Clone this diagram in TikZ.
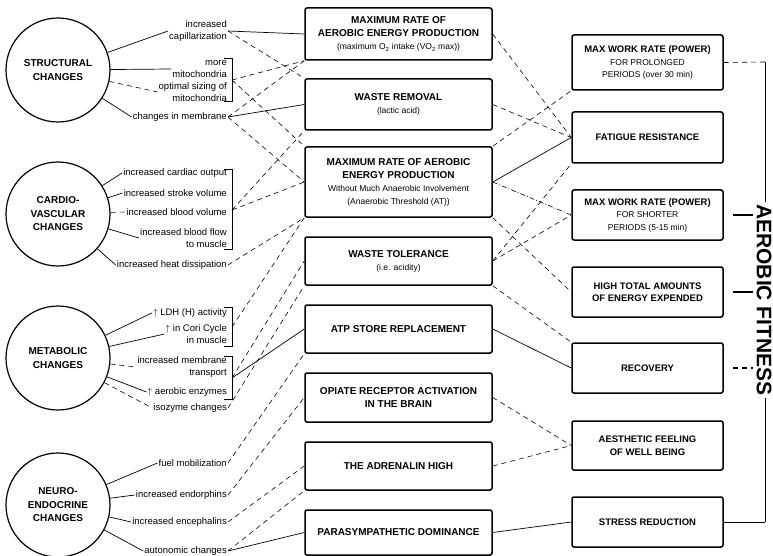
\documentclass[tikz,border=0pt]{standalone}
\usepackage{fontspec}
\setmainfont{Liberation Sans}

\tikzset{
  change/.style={circle, draw, line width=1.2pt, minimum size=104pt, inner sep=0pt,
    align=center, font=\bfseries\fontsize{10}{13.5}\selectfont},
  effect/.style={anchor=east, align=right, inner sep=1pt, font=\fontsize{9.5}{12.3}\selectfont},
  midbox/.style={draw, line width=1.5pt, rounded corners=2pt, minimum width=187pt,
    align=center, font=\bfseries\fontsize{10}{13}\selectfont},
  outbox/.style={draw, line width=1.5pt, rounded corners=2pt, minimum width=151pt,
    align=center, font=\bfseries\fontsize{9.5}{12.5}\selectfont},
  link/.style={line width=0.7pt},
  weak/.style={line width=0.6pt, dash pattern=on 5pt off 4pt},
  weakdot/.style={line width=0.6pt, dash pattern=on 5pt off 2pt on 1pt off 2pt}
}
\newcommand{\subtxt}{\mdseries\fontsize{8.5}{10}\selectfont}

\begin{document}
\begin{tikzpicture}[x=1pt,y=-1pt]
\useasboundingbox (0,0) rectangle (773,556);
%circles:
\node[change] (struct) at (58,70) {STRUCTURAL\\CHANGES};
\node[change] (cardio) at (58,214) {CARDIO-\\VASCULAR\\CHANGES};
\node[change] (metab) at (58,358) {METABOLIC\\CHANGES};
\node[change] (neuro) at (58,505) {NEURO-\\ENDOCRINE\\CHANGES};
%effects of each change:
\node[effect] (cap) at (228,31) {increased\\capillarization};
\node[effect] (mito) at (228,69) {more\\mitochondria};
\node[effect] (optsz) at (228,92) {optimal sizing of\\mitochondria};
\node[effect] (membr) at (228,117) {changes in membrane};
\node[effect] (cout) at (228,173) {increased cardiac output};
\node[effect] (strk) at (228,193) {increased stroke volume};
\node[effect] (bvol) at (228,212) {increased blood volume};
\node[effect] (bflow) at (228,238) {increased blood flow\\to muscle};
\node[effect] (heat) at (228,265) {increased heat dissipation};
\node[effect] (ldh) at (228,313) {$\uparrow$ LDH (H) activity};
\node[effect] (cori) at (228,334) {$\uparrow$ in Cori Cycle\\in muscle};
\node[effect] (mtrans) at (228,367) {increased membrane\\transport};
\node[effect] (aerenz) at (228,392) {$\uparrow$ aerobic enzymes};
\node[effect] (iso) at (228,408) {isozyme changes};
\node[effect] (fuel) at (228,463) {fuel mobilization};
\node[effect] (endo) at (228,495) {increased endorphins};
\node[effect] (ence) at (228,522) {increased encephalins};
\node[effect] (auto) at (228,551) {autonomic changes};
%brackets:
\draw[link] (224,58) -- (232,58) -- (232,101) -- (224,101);
\draw[link] (224,169) -- (232,169) -- (232,249) -- (224,249);
\draw[link] (224,307) -- (232,307) -- (232,346) -- (224,346);
\draw[link] (224,356) -- (232,356) -- (232,399) -- (224,399);
\coordinate (bmito) at (232,80);
\coordinate (bcard) at (232,210);
\coordinate (bmet1) at (232,327);
\coordinate (bmet2) at (232,378);
%middle boxes:
\node[midbox, minimum height=52pt] (maxaer) at (398.5,34)
  {MAXIMUM RATE OF\\AEROBIC ENERGY PRODUCTION\\{\subtxt (maximum O\textsubscript{2} intake (VO\textsubscript{2} max))}};
\node[midbox, minimum height=51pt] (wrem) at (398.5,104.5) {WASTE REMOVAL\\{\subtxt (lactic acid)}};
\node[midbox, minimum height=70pt] (thresh) at (398.5,182)
  {MAXIMUM RATE OF AEROBIC\\ENERGY PRODUCTION\\{\subtxt Without Much Anaerobic Involvement}\\{\subtxt (Anaerobic Threshold (AT))}};
\node[midbox, minimum height=48pt] (wtol) at (398.5,261) {WASTE TOLERANCE\\{\subtxt (i.e. acidity)}};
\node[midbox, minimum height=48pt] (atp) at (398.5,329) {ATP STORE REPLACEMENT};
\node[midbox, minimum height=49pt] (opiate) at (398.5,397.5) {OPIATE RECEPTOR ACTIVATION\\IN THE BRAIN};
\node[midbox, minimum height=48pt] (adren) at (398.5,466) {THE ADRENALIN HIGH};
\node[midbox, minimum height=45pt] (para) at (398.5,532.5) {PARASYMPATHETIC DOMINANCE};
%right boxes:
\node[outbox, minimum height=55pt] (prolong) at (647.5,62.5)
  {MAX WORK RATE (POWER)\\{\subtxt FOR PROLONGED}\\{\subtxt PERIODS (over 30 min)}};
\node[outbox, minimum height=51pt] (fatig) at (647.5,137.5) {FATIGUE RESISTANCE};
\node[outbox, minimum height=50pt] (short) at (647.5,215)
  {MAX WORK RATE (POWER)\\{\subtxt FOR SHORTER}\\{\subtxt PERIODS (5-15 min)}};
\node[outbox, minimum height=50pt] (total) at (647.5,292) {HIGH TOTAL AMOUNTS\\OF ENERGY EXPENDED};
\node[outbox, minimum height=50pt] (recov) at (647.5,368) {RECOVERY};
\node[outbox, minimum height=49pt] (aesth) at (647.5,445.5) {AESTHETIC FEELING\\OF WELL BEING};
\node[outbox, minimum height=50pt] (stress) at (647.5,522) {STRESS REDUCTION};
%circles to effects:
\draw[link] (struct) -- (cap.west);
\draw[link] (struct) -- (mito.west);
\draw[weak] (struct) -- (optsz.west);
\draw[link] (struct) -- (membr.west);
\draw[link] (cardio) -- (cout.west);
\draw[link] (cardio) -- (strk.west);
\draw[weak] (cardio) -- (bvol.west);
\draw[link] (cardio) -- (bflow.west);
\draw[link] (cardio) -- (heat.west);
\draw[link] (metab) -- (ldh.west);
\draw[link] (metab) -- (cori.west);
\draw[weak] (metab) -- (mtrans.west);
\draw[link] (metab) -- (aerenz.west);
\draw[weak] (metab) -- (iso.west);
\draw[link] (neuro) -- (fuel.west);
\draw[link] (neuro) -- (endo.west);
\draw[link] (neuro) -- (ence.west);
\draw[link] (neuro) -- (auto.west);
%effects to middle boxes:
\draw[link] (cap.east) -- (maxaer.west);
\draw[weak] (cap.east) -- (wrem.north west);
\draw[weak] (bmito) -- (maxaer.south west);
\draw[weak] (bmito) -- (thresh.north west);
\draw[link] (membr.east) -- (wrem.west);
\draw[weak] (membr.east) -- (maxaer.south west);
\draw[weak] (membr.east) -- (thresh.west);
\draw[weak] (bcard) -- (wrem.south west);
\draw[weak] (bcard) -- (thresh.west);
\draw[weak] (heat.east) -- (thresh.south west);
\draw[weak] (bmet1) -- (thresh.south west);
\draw[link] (bmet2) -- (atp.west);
\draw[weak] (bmet2) -- (wtol.west);
\draw[weak] (iso.east) -- (wtol.south west);
\draw[weak] (fuel.east) -- (atp.south west);
\draw[weak] (endo.east) -- (opiate.west);
\draw[weak] (ence.east) -- (adren.west);
\draw[link] (auto.east) -- (para.west);
\draw[weak] (auto.east) -- (adren.south west);
%middle boxes to right boxes:
\draw[weak] (maxaer.east) -- (fatig.west);
\draw[weak] (wrem.east) -- (fatig.west);
\draw[link] (thresh.east) -- (fatig.west);
\draw[weakdot] (thresh.east) -- (short.west);
\draw[weak] (thresh.north east) -- (prolong.south west);
\draw[weak] (wtol.east) -- (short.west);
\draw[weak] (wtol.east) -- (fatig.south west);
\draw[weak] (thresh.south east) -- (total.west);
\draw[link] (atp.east) -- (recov.west);
\draw[weak] (wtol.south east) -- (recov.north west);
\draw[weak] (opiate.east) -- (aesth.west);
\draw[weak] (adren.east) -- (aesth.west);
\draw[link] (para.east) -- (stress.west);
%aerobic fitness bracket:
\coordinate (ftop) at (765,62);
\coordinate (fbot) at (765,522);
\coordinate (tshort) at (753,215);
\coordinate (ttotal) at (753,292);
\coordinate (trecov) at (753,368);
\draw[weak] (prolong.east) -- (ftop);
\draw[link] (ftop) -- (fbot);
\draw[link] (stress.east) -- (fbot);
\draw[line width=1.4pt] ([xshift=9pt]short.east) -- (tshort);
\draw[line width=1.4pt] ([xshift=9pt]total.east) -- (ttotal);
\draw[weak, line width=1.2pt] ([xshift=9pt]recov.east) -- (trecov);
\node[rotate=-90, fill=white, inner sep=2pt, font=\bfseries\fontsize{21}{24}\selectfont] (fitness) at (764,300) {AEROBIC FITNESS};
\end{tikzpicture}
\end{document}
